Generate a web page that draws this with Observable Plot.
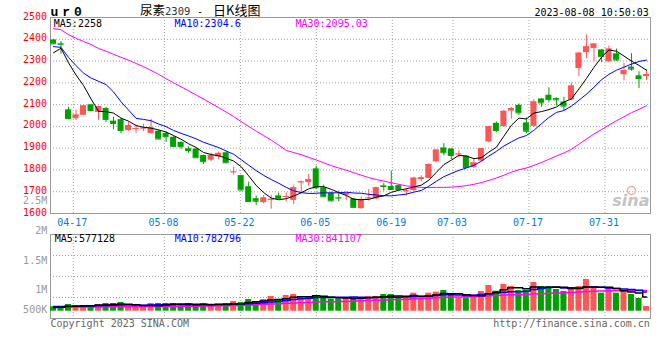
<!DOCTYPE html>
<html><head><meta charset="utf-8">
<script src="https://cdn.jsdelivr.net/npm/d3@7"></script>
<script src="https://cdn.jsdelivr.net/npm/@observablehq/plot@0.6"></script>
<style>
html,body{margin:0;padding:0;background:#fff;}
#wrap{position:relative;width:660px;height:360px;overflow:hidden;background:#fff;}
</style></head><body><div id="wrap"></div>
<script>
// ---------- data ----------
const dates = ["04-12","04-13","04-14","04-17","04-18","04-19","04-20","04-21","04-24","04-25","04-26","04-27","04-28",
"05-04","05-05","05-08","05-09","05-10","05-11","05-12","05-15","05-16","05-17","05-18","05-19","05-22","05-23","05-24","05-25","05-26","05-29","05-30","05-31",
"06-01","06-02","06-05","06-06","06-07","06-08","06-09","06-12","06-13","06-14","06-15","06-16","06-19","06-20","06-21","06-26","06-27","06-28","06-29","06-30",
"07-03","07-04","07-05","07-06","07-07","07-10","07-11","07-12","07-13","07-14","07-17","07-18","07-19","07-20","07-21","07-24","07-25","07-26","07-27","07-28","07-31",
"08-01","08-02","08-03","08-04","08-07","08-08"];
const tickDates = ["04-17","05-08","05-22","06-05","06-19","07-03","07-17","07-31"];
const priceTicks = [1600,1700,1800,1900,2000,2100,2200,2300,2400,2500];

const open = [2397,2380,2076,2035,2051,2099,2064,2082,2024,2031, 1981,1988,1990,1967,1978,1968,1950,1926,1897,1896,
1866,1845,1860,1879,1789,1774,1723,1668,1650,1662, 1681,1676,1660,1742,1742,1805,1718,1692,1673,1683,
1667,1622,1669,1667,1727,1724,1728,1702,1705,1756, 1761,1837,1901,1896,1870,1863,1812,1841,1929,2014,
1999,2070,2097,2016,2000,2126,2143,2128,2112,2122, 2266,2339,2358,2351,2297,2333,2237,2272,2232,2229];
const high = [2399,2390,2088,2075,2096,2101,2093,2088,2042,2038, 2020,2006,2010,2033,1982,1975,1953,1929,1907,1899,
1869,1877,1882,1883,1814,1776,1744,1680,1683,1684, 1694,1695,1730,1749,1779,1817,1730,1699,1703,1694,
1670,1675,1710,1720,1738,1795,1732,1716,1767,1773, 1829,1893,1921,1899,1887,1866,1852,1899,2000,2021,
2074,2088,2103,2039,2123,2128,2177,2131,2134,2199, 2338,2420,2380,2353,2369,2355,2290,2334,2251,2261];
const low = [2377,2332,2030,2027,2049,2071,2028,2018,1985,1966, 1977,1968,1976,1965,1940,1926,1905,1895,1877,1853,
1825,1838,1848,1829,1776,1704,1650,1637,1644,1620, 1662,1654,1641,1695,1725,1710,1672,1654,1654,1660,
1625,1620,1657,1665,1703,1708,1707,1679,1702,1746, 1759,1834,1865,1847,1855,1806,1806,1838,1924,1971,
1997,2033,2051,1966,1998,2088,2108,2093,2073,2120, 2228,2311,2298,2293,2294,2298,2209,2254,2174,2210];
const close = [2379,2377,2036,2052,2094,2073,2091,2032,2013,1981, 2004,1990,1992,1993,1942,1953,1908,1907,1889,1856,
1838,1867,1876,1833,1791,1708,1655,1656,1671,1665, 1668,1678,1718,1745,1755,1718,1677,1658,1671,1692,
1628,1664,1671,1718,1724,1710,1710,1704,1762,1764, 1825,1891,1879,1866,1873,1811,1832,1897,1998,1981,
2069,2082,2062,1978,2112,2108,2123,2122,2093,2185, 2336,2365,2378,2320,2355,2305,2256,2263,2220,2238];

const ma5 = [2338,2359,2292,2236,2188,2126,2069,2068,2061,2038, 2024,2004,1996,1992,1984,1974,1958,1941,1920,1903,
1880,1871,1865,1854,1841,1815,1773,1729,1696,1671, 1663,1668,1680,1695,1713,1723,1723,1711,1696,1683,
1665,1663,1665,1675,1681,1697,1707,1713,1722,1730, 1753,1789,1824,1845,1867,1864,1852,1856,1882,1904,
1955,2005,2038,2034,2061,2068,2077,2089,2112,2126, 2172,2220,2271,2317,2351,2345,2323,2300,2280,2258];
const ma10 = [2366,2363,2317,2279,2245,2222,2207,2192,2158,2113, 2075,2037,2032,2026,2011,1999,1981,1968,1956,1943,
1927,1915,1903,1887,1872,1847,1822,1797,1775,1756, 1739,1720,1704,1696,1692,1693,1695,1695,1695,1698,
1694,1693,1688,1685,1682,1681,1685,1689,1698,1706, 1725,1748,1769,1784,1798,1809,1821,1840,1864,1885,
1910,1929,1947,1958,1982,2012,2041,2064,2073,2093, 2120,2148,2180,2214,2239,2258,2272,2286,2298,2304.6];
const ma30 = [2449,2444,2421,2405,2390,2376,2358,2345,2331,2317, 2304,2289,2274,2257,2239,2219,2200,2182,2163,2144,
2125,2106,2086,2066,2045,2022,2000,1978,1958,1937, 1914,1890,1880,1870,1858,1846,1833,1820,1809,1799,
1787,1776,1765,1756,1749,1741,1734,1727,1723,1720, 1719,1720,1720,1721,1724,1728,1734,1742,1752,1763,
1776,1790,1801,1809,1821,1834,1849,1864,1878,1895, 1918,1942,1965,1985,2006,2026,2044,2063,2078,2095.03];

const volume = [176000,163000,273000,233000,233000,233000,273000,314000,314000,355000,
163000,163000,163000,314000,314000,314000,314000,204000,314000,253000,
314000,233000,233000,314000,396000,355000,478000,396000,478000,600000,
437000,641000,682000,600000,600000,641000,518000,502000,502000,543000,
543000,543000,600000,600000,682000,682000,543000,543000,735000,543000,
735000,776000,845000,641000,543000,543000,641000,804000,1049000,816000,
1090000,1008000,845000,845000,1172000,1008000,1008000,886000,804000,927000,
1008000,1294000,927000,735000,927000,735000,845000,682000,518000,192000];
const vma5 = [150000,160000,190000,205000,216000,227000,249000,257000,273000,298000,
284000,262000,232000,232000,223000,254000,284000,292000,292000,280000,
280000,264000,269000,269000,298000,306000,355000,388000,421000,461000,
478000,510000,568000,592000,592000,633000,608000,572000,553000,541000,
522000,527000,546000,566000,594000,621000,621000,610000,637000,609000,
620000,666000,727000,708000,708000,670000,643000,634000,716000,771000,
880000,953000,962000,921000,992000,976000,976000,984000,976000,927000,
927000,984000,992000,978000,978000,924000,834000,785000,741000,577128];
const vma10 = [190000,192000,198000,204000,210000,216000,226000,236000,246000,257000,
255000,255000,244000,253000,261000,269000,273000,262000,262000,252000,
267000,274000,281000,281000,289000,293000,309000,329000,345000,380000,
392000,433000,478000,506000,527000,555000,559000,570000,572000,567000,
577000,567000,559000,559000,567000,572000,574000,578000,601000,601000,
621000,644000,668000,673000,659000,645000,655000,681000,712000,739000,
775000,798000,798000,818000,881000,928000,965000,973000,948000,959000,
951000,980000,988000,977000,952000,925000,909000,888000,860000,782796];
const vma30 = [170000,170000,172000,172000,174000,175000,176000,178000,180000,182000,
183000,185000,187000,189000,191000,193000,196000,199000,202000,205000,
210000,215000,220000,226000,234000,245000,258000,270000,284000,296000,
305000,321000,334000,347000,359000,372000,381000,387000,393000,399000,
412000,425000,439000,449000,461000,473000,481000,492000,506000,516000,
530000,548000,568000,579000,584000,591000,596000,610000,629000,636000,
658000,670000,675000,683000,702000,715000,731000,744000,754000,767000,
782000,807000,818000,823000,831000,833000,843000,847000,840000,841107];
const volTickLabels = ["2M","1.5M","1M","500K"];
const volTickTop = "2.5M";

const titleName = "尿素", titleCode = "2309", titleKind = "日K线图";
const symbol = "ur0", stamp = "2023-08-08 10:50:03";
const copyright = "Copyright 2023 SINA.COM", site = "http://finance.sina.com.cn";

// ---------- layout ----------
const FONT = "'DejaVu Sans Mono', monospace";
const CJK = "'Noto Sans CJK SC', sans-serif";
const RED = "#ff5555", GREEN = "#00a000";
const GRID = {stroke: "#a0a0a0", strokeDasharray: "1,2"};
const N = dates.length;
const rows = dates.map((date, i) => ({i, date, open: open[i], high: high[i], low: low[i], close: close[i], vol: volume[i], up: close[i] >= open[i]}));
const col = d => d.up ? RED : GREEN;
const half = 0.4;
const xDomain = [-0.4, N - 1 + 0.533];
// Sina spreads its date grid over N-1 steps of the whole frame
const gridX = i => xDomain[0] + i * (xDomain[1] - xDomain[0]) / (N - 1);
const ticks = tickDates.map(t => ({label: t, gx: gridX(dates.indexOf(t))}));
const txt = (s, o) => Plot.text([s], {text: d => d, lineAnchor: "bottom", fontFamily: FONT, fontSize: 10, ...o});

const main = Plot.plot({
  width: 660, height: 228,
  marginLeft: 50, marginRight: 10, marginTop: 17, marginBottom: 15,
  x: {domain: xDomain, axis: null},
  y: {domain: [1600, 2500], axis: null},
  color: {type: "identity"},
  style: {fontFamily: FONT, fontSize: "10px", background: "transparent", overflow: "visible", position: "absolute", left: "0px", top: "0px"},
  marks: [
    Plot.ruleY(priceTicks.slice(1, -1), GRID),
    Plot.ruleX(ticks, {x: "gx", ...GRID}),
    Plot.frame({stroke: "#999"}),
    // sina watermark: grey word plus a pale red "eye" ring
    Plot.dot([0], {frameAnchor: "bottom-right", dx: -19, dy: -23, r: 4, stroke: "#f2a8a8", strokeWidth: 1.5, fill: "none"}),
    txt("sina", {frameAnchor: "bottom-right", textAnchor: "end", dx: -1, dy: -8, fontFamily: "'DejaVu Sans', sans-serif", fontSize: 16, fontWeight: "bold", fontStyle: "italic", fill: "#c4c4c4"}),
    Plot.ruleX(rows, {x: "i", y1: "low", y2: "high", stroke: col}),
    Plot.rect(rows, {x1: d => d.i - half, x2: d => d.i + half, y1: "open", y2: "close", fill: col}),
    Plot.ruleY(rows, {x1: d => d.i - half, x2: d => d.i + half, y: "close", stroke: col}),
    Plot.line(rows, {x: "i", y: d => ma30[d.i], stroke: "#ff00ff", strokeWidth: 1}),
    Plot.line(rows, {x: "i", y: d => ma10[d.i], stroke: "#0000ff", strokeWidth: 1}),
    Plot.line(rows, {x: "i", y: d => ma5[d.i], stroke: "#000000", strokeWidth: 1}),
    Plot.text(priceTicks, {y: d => d, text: d => String(d), frameAnchor: "left", textAnchor: "end", dx: -3.5, dy: 2, lineAnchor: "bottom", fill: "#ff0000", fontFamily: FONT, fontSize: 10}),
    Plot.text(ticks, {x: "gx", text: "label", frameAnchor: "bottom", dx: -1, dy: 12, lineAnchor: "bottom", fill: "#0a7ad8", fontFamily: FONT, fontSize: 10}),
    txt(volTickTop, {frameAnchor: "bottom-left", textAnchor: "end", dx: -3.3, dy: -9.7, fill: "#999"}),
    txt(`MA5:${ma5[N - 1]}`, {frameAnchor: "top-left", dx: 3.3, dy: 9.7, fill: "#000"}),
    txt(`MA10:${ma10[N - 1]}`, {frameAnchor: "top-left", dx: 124, dy: 9.7, fill: "#0000ff"}),
    txt(`MA30:${ma30[N - 1]}`, {frameAnchor: "top-left", dx: 245, dy: 9.7, fill: "#ff00ff"}),
    txt(symbol, {frameAnchor: "top-left", dy: -2, fontFamily: "'Liberation Mono', monospace", fontWeight: "bold", fontSize: 13, fill: "#000"}),
    txt(titleName, {frameAnchor: "top-left", dx: 89.5, dy: -3, fontFamily: CJK, fontSize: 12.5, fill: "#000"}),
    txt(titleCode, {frameAnchor: "top-left", dx: 114.5, dy: -2.5, fontSize: 10.5, fill: "#333"}),
    txt("-", {frameAnchor: "top-left", textAnchor: "middle", dx: 149.5, dy: -3, fill: "#000"}),
    txt(titleKind, {frameAnchor: "top-left", dx: 162.5, dy: -3, fontFamily: CJK, fontSize: 13, fill: "#000"}),
    txt(stamp, {frameAnchor: "top-right", textAnchor: "end", dx: -1.7, dy: -2, fill: "#000"})
  ]
});
d3.select(main).selectAll("text").filter(function () { return this.textContent === symbol; }).attr("letter-spacing", "4px");

// volume panel: bars rise from a baseline a little above the frame bottom
const vTop = 6, vBottom = 90, vBase = 82.7, pxPerUnit = 24.5 / 1e6;
const vDomain = [-(vBottom - vBase) / pxPerUnit, (vBase - vTop) / pxPerUnit];
const vGrid = [1, 2, 3].map(k => vDomain[0] + k * (vDomain[1] - vDomain[0]) / 4);
const volTickDy = [-0.5, 29.5, 58.5, 78.5];

const vol = Plot.plot({
  width: 660, height: 132,
  marginLeft: 50, marginRight: 10, marginTop: vTop, marginBottom: 132 - vBottom,
  x: {domain: xDomain, axis: null},
  y: {domain: vDomain, axis: null},
  color: {type: "identity"},
  style: {fontFamily: FONT, fontSize: "10px", background: "transparent", overflow: "visible", position: "absolute", left: "0px", top: "228px"},
  marks: [
    Plot.ruleY(vGrid, GRID),
    Plot.ruleX(ticks, {x: "gx", ...GRID}),
    Plot.frame({stroke: "#999"}),
    Plot.rect(rows, {x1: d => d.i - half, x2: d => d.i + half, y1: 0, y2: "vol", fill: col}),
    Plot.line(rows, {x: "i", y: d => vma30[d.i], stroke: "#ff00ff", strokeWidth: 1.5, curve: "step"}),
    Plot.line(rows, {x: "i", y: d => vma10[d.i], stroke: "#0000ff", strokeWidth: 1.5, curve: "step"}),
    Plot.line(rows, {x: "i", y: d => vma5[d.i], stroke: "#000000", strokeWidth: 1.5, curve: "step"}),
    ...volTickLabels.map((s, k) => txt(s, {frameAnchor: "top-left", textAnchor: "end", dx: -3.3, dy: volTickDy[k], fill: "#999"})),
    txt(`MA5:${vma5[N - 1]}`, {frameAnchor: "top-left", dx: 4.3, dy: 7.7, fill: "#000"}),
    txt(`MA10:${vma10[N - 1]}`, {frameAnchor: "top-left", dx: 124.3, dy: 7.7, fill: "#0000ff"}),
    txt(`MA30:${vma30[N - 1]}`, {frameAnchor: "top-left", dx: 245, dy: 7.7, fill: "#ff00ff"}),
    txt(copyright, {frameAnchor: "bottom-left", dy: 8, fill: "#666"}),
    txt(site, {frameAnchor: "bottom-right", textAnchor: "end", dx: -0.7, dy: 8, fill: "#666"})
  ]
});

const wrap = document.getElementById("wrap");
wrap.appendChild(main);
wrap.appendChild(vol);
</script></body></html>
